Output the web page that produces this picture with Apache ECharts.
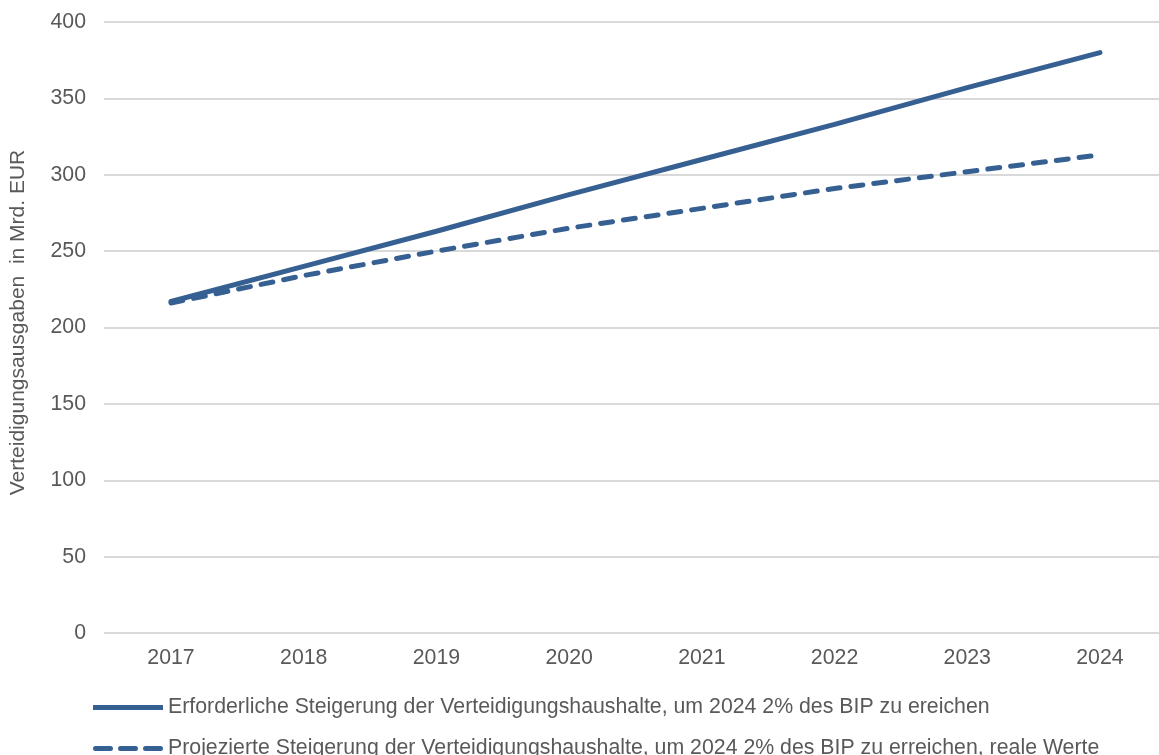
<!DOCTYPE html>
<html>
<head>
<meta charset="utf-8">
<title>Verteidigungsausgaben</title>
<script src="https://cdn.jsdelivr.net/npm/echarts@6/dist/echarts.min.js"></script>
<style>
  html, body { margin: 0; padding: 0; background: #fff; }
  #chart { width: 1159px; height: 755px; }
</style>
</head>
<body>
<div id="chart"></div>
<script>
// Jahre auf der x-Achse
var years = [2017, 2018, 2019, 2020, 2021, 2022, 2023, 2024];
// Erforderliche Steigerung (Mrd. EUR)
var required = [217, 240, 263, 287, 310, 333, 357, 380];
// Projezierte Steigerung, reale Werte (Mrd. EUR)
var projected = [216, 234, 250, 265, 278, 291, 302, 313];
var seriesNames = [
  'Erforderliche Steigerung der Verteidigungshaushalte, um 2024 2% des BIP zu ereichen',
  'Projezierte Steigerung der Verteidigungshaushalte, um 2024 2% des BIP zu erreichen, reale Werte'
];

var lineColor = '#376092';
var textColor = '#595959';
var font = "'Liberation Sans', Arial, sans-serif";

function pairs(vals) {
  return years.map(function (y, i) { return [y, vals[i]]; });
}

// the plot area of the original is cut a bit on the right side,
// so the x range goes half a year left and a bit less right
var legendText = { color: textColor, fontSize: 21.3, fontFamily: font };

var chart = echarts.init(document.getElementById('chart'));
chart.setOption({
  animation: false,
  textStyle: { fontFamily: font },
  grid: {
    top: 22,
    left: 104,
    right: 0,
    bottom: 122,
    containLabel: false
  },
  legend: [
    {
      left: 88,
      top: 692,
      itemWidth: 70,
      itemHeight: 5,
      textStyle: legendText,
      data: [{ name: seriesNames[0], icon: 'rect' }]
    },
    {
      left: 88,
      top: 733,
      itemWidth: 70,
      itemHeight: 5,
      textStyle: legendText,
      data: [{
        name: seriesNames[1],
        icon: 'path://M2.5,0H17.5A2.5,2.5,0,0,1,17.5,5H2.5A2.5,2.5,0,0,1,2.5,0Z' +
              'M27.5,0H42.5A2.5,2.5,0,0,1,42.5,5H27.5A2.5,2.5,0,0,1,27.5,0Z' +
              'M52.5,0H67.5A2.5,2.5,0,0,1,67.5,5H52.5A2.5,2.5,0,0,1,52.5,0Z'
      }]
    }
  ],
  xAxis: {
    type: 'value',
    min: 2016.495,
    max: 2024.445,
    axisLine: { show: false },
    axisTick: { show: false },
    splitLine: { show: false },
    axisLabel: {
      color: textColor,
      fontSize: 21.3,
      margin: 15,
      customValues: years,
      formatter: function (v) { return String(v); }
    }
  },
  yAxis: {
    type: 'value',
    min: 0,
    max: 400,
    interval: 50,
    name: 'Verteidigungsausgaben  in Mrd. EUR',
    nameLocation: 'middle',
    nameGap: 75,
    nameTextStyle: { color: textColor, fontSize: 21, padding: [0, 0, 0, 10] },
    axisLine: { show: false },
    axisTick: { show: false },
    axisLabel: { color: textColor, fontSize: 21.3, margin: 18 },
    splitLine: { lineStyle: { color: '#d9d9d9', width: 2 } }
  },
  series: [
    {
      name: seriesNames[0],
      type: 'line',
      data: pairs(required),
      symbol: 'none',
      lineStyle: { color: lineColor, width: 5, cap: 'round' },
      itemStyle: { color: lineColor }
    },
    {
      name: seriesNames[1],
      type: 'line',
      data: pairs(projected),
      symbol: 'none',
      lineStyle: { color: lineColor, width: 5, type: [12, 11], cap: 'round' },
      itemStyle: { color: lineColor }
    }
  ]
});
</script>
</body>
</html>
